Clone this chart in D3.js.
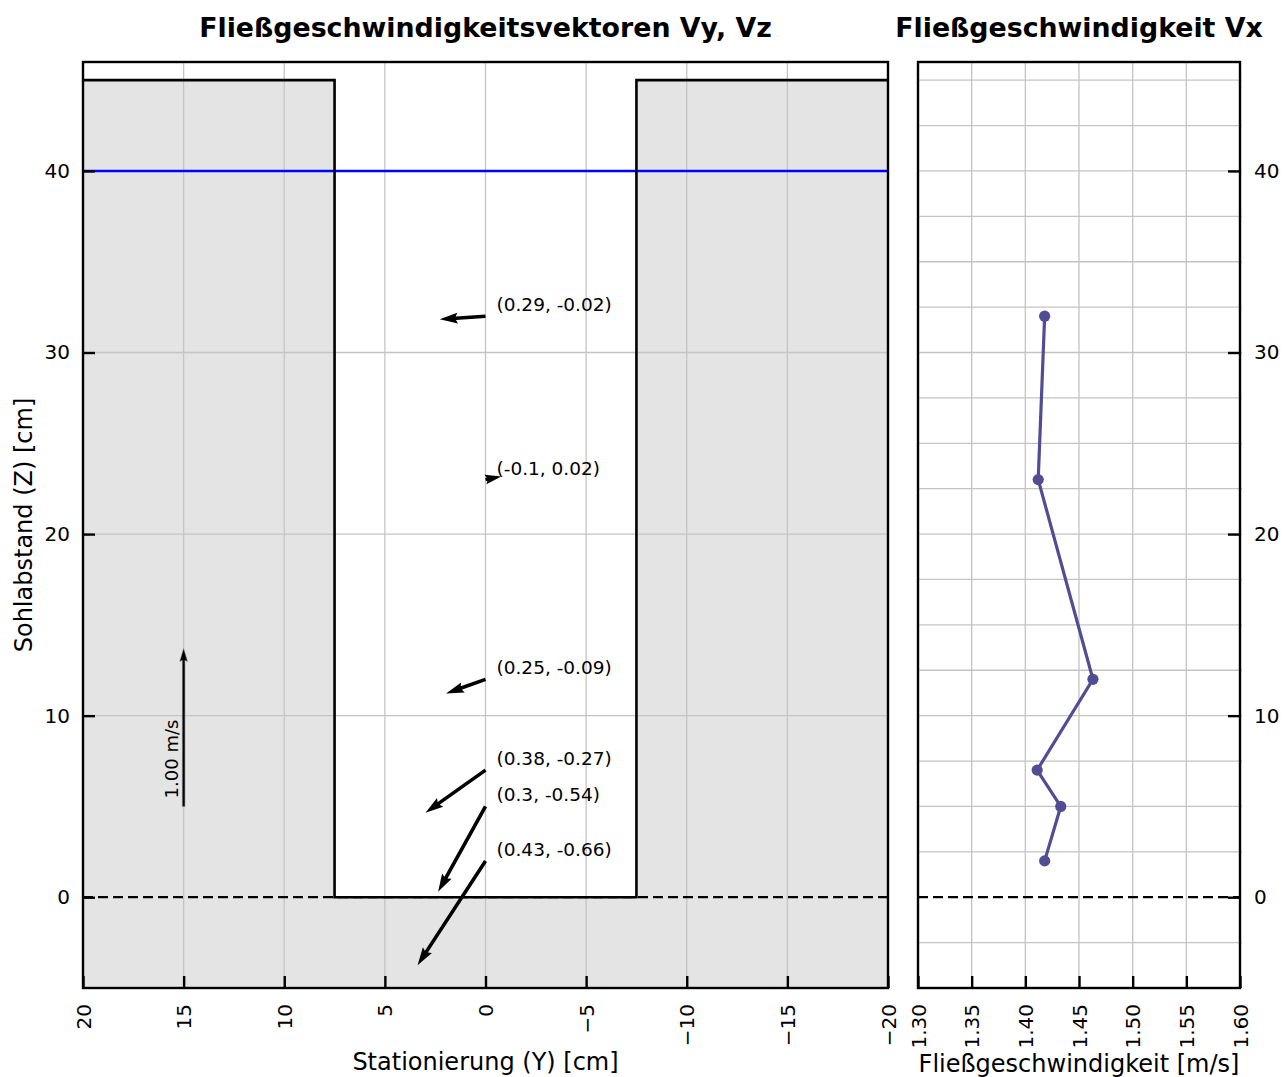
<!DOCTYPE html>
<html>
<head>
<meta charset="utf-8">
<script src="https://cdn.jsdelivr.net/npm/d3@7"></script>
<style>
  body { margin: 0; background: #fff; }
  svg text { font-family: "DejaVu Sans", sans-serif; fill: #000; }
</style>
</head>
<body>
<div id="wrapper"></div>
<script>
// measurement heights above the bed [cm]
const zLevels = [32, 23, 12, 7, 5, 2]
// cross-section velocity components [m/s]
const vyValues = [0.29, -0.1, 0.25, 0.38, 0.3, 0.43]
const vzValues = [-0.02, 0.02, -0.09, -0.27, -0.54, -0.66]
// main flow velocity [m/s]
const vxValues = [1.418, 1.412, 1.463, 1.411, 1.433, 1.418]

// channel geometry [cm]
const wallEdge = 7.5
const wallTop = 45
const waterLevel = 40

const yTicks = [20, 15, 10, 5, 0, -5, -10, -15, -20]
const zTicks = [0, 10, 20, 30, 40]
const vxTicks = [1.30, 1.35, 1.40, 1.45, 1.50, 1.55, 1.60]
const zMinorGrid = [-2.5, 2.5, 5, 7.5, 12.5, 15, 17.5, 22.5, 25, 27.5, 32.5, 35, 37.5, 42.5, 45]

let dimensions = {
  width: 1283,
  height: 1077,
  top: 62,
  bottom: 988,
  left: { x0: 83, x1: 888 },
  right: { x0: 918, x1: 1240 }
}

const wrapper = d3.select('#wrapper').append('svg')
  .attr('width', dimensions.width)
  .attr('height', dimensions.height)

// Scales
const zScale = d3.scaleLinear().domain([-5, 46]).range([dimensions.bottom, dimensions.top])
const yScale = d3.scaleLinear().domain([20, -20]).range([dimensions.left.x0, dimensions.left.x1])
const vxScale = d3.scaleLinear().domain([1.3, 1.6]).range([dimensions.right.x0, dimensions.right.x1])
// quiver length in pixels per m/s
const arrowScale = d3.scaleLinear().domain([0, 1]).range([0, 158])

const gridColor = '#c4c4c4'
const fillColor = '#e4e4e4'

// ---------- left panel: vectors ----------
const left = wrapper.append('g')
const lx0 = dimensions.left.x0, lx1 = dimensions.left.x1

// gray walls and bed as one polygon (no seams)
const solid = [[20, -5], [20, wallTop], [wallEdge, wallTop], [wallEdge, 0], [-wallEdge, 0], [-wallEdge, wallTop], [-20, wallTop], [-20, -5]]
const lineYZ = d3.line().x(d => yScale(d[0])).y(d => zScale(d[1]))
left.append('path')
  .attr('d', lineYZ(solid) + 'Z')
  .attr('fill', fillColor)

// grid
left.append('g').selectAll('line')
  .data(yTicks.slice(1, -1))
  .join('line')
  .attr('x1', d => yScale(d)).attr('x2', d => yScale(d))
  .attr('y1', dimensions.top).attr('y2', dimensions.bottom)
  .attr('stroke', gridColor).attr('stroke-width', 1.3)
left.append('g').selectAll('line')
  .data([10, 20, 30])
  .join('line')
  .attr('x1', lx0).attr('x2', lx1)
  .attr('y1', d => zScale(d)).attr('y2', d => zScale(d))
  .attr('stroke', gridColor).attr('stroke-width', 1.3)

// bed reference (dashed) and water level
left.append('line')
  .attr('x1', lx0).attr('x2', lx1)
  .attr('y1', zScale(0)).attr('y2', zScale(0))
  .attr('stroke', 'black').attr('stroke-width', 2.2)
  .attr('stroke-dasharray', '10 5')
left.append('line')
  .attr('x1', lx0).attr('x2', lx1)
  .attr('y1', zScale(waterLevel)).attr('y2', zScale(waterLevel))
  .attr('stroke', '#0000ff').attr('stroke-width', 2.4)

// channel outline
const outline = [[20, wallTop], [wallEdge, wallTop], [wallEdge, 0], [-wallEdge, 0], [-wallEdge, wallTop], [-20, wallTop]]
left.append('path')
  .attr('d', lineYZ(outline))
  .attr('fill', 'none').attr('stroke', 'black').attr('stroke-width', 2.6)

// arrow shape like a quiver arrow, pointing along +x, length len
function arrowPath(len, w) {
  const hl = 5 * w, hal = 4.5 * w, hw = 1.5 * w
  let pts
  if (len >= hl) {
    pts = [[0, -w / 2], [len - hal, -w / 2], [len - hl, -hw], [len, 0], [len - hl, hw], [len - hal, w / 2], [0, w / 2]]
  } else {
    const s = len / hl
    pts = [[0, -w / 2], [hl - hal, -w / 2], [0, -hw], [hl, 0], [0, hw], [hl - hal, w / 2], [0, w / 2]]
      .map(p => [p[0] * s, p[1] * s])
  }
  return 'M' + pts.map(p => p.join(',')).join('L') + 'Z'
}

const vectors = zLevels.map((z, i) => ({ z: z, vy: vyValues[i], vz: vzValues[i] }))

const arrowGroups = left.append('g').selectAll('g')
  .data(vectors)
  .join('g')
  .attr('transform', d => `translate(${yScale(0)},${zScale(d.z)})`)

arrowGroups.append('path')
  .attr('d', d => arrowPath(arrowScale(Math.hypot(d.vy, d.vz)), 3.6))
  .attr('transform', d => {
    // positive vy points toward the left (reversed axis), positive vz points up
    const dx = d.vy >= 0 ? -arrowScale(d.vy) : arrowScale(-d.vy)
    const ang = Math.atan2(-arrowScale(d.vz), dx) * 180 / Math.PI
    return `rotate(${ang})`
  })
  .attr('fill', 'black')

arrowGroups.append('text')
  .attr('x', 11)
  .attr('y', -11.5)
  .attr('dy', '0.35em')
  .style('font-size', '18.5px')
  .text(d => `(${d.vy}, ${d.vz})`)

// reference arrow 1.00 m/s
const keyArrow = left.append('g')
  .attr('transform', `translate(${yScale(15)},${zScale(5)})`)
keyArrow.append('path')
  .attr('d', arrowPath(arrowScale(1), 2.6))
  .attr('transform', 'rotate(-90)')
  .attr('fill', 'black')
  .attr('stroke', '#888').attr('stroke-width', 0.5)
keyArrow.append('text')
  .attr('transform', `translate(-12,${-arrowScale(1) * 0.3}) rotate(-90)`)
  .attr('dy', '0.35em')
  .style('text-anchor', 'middle')
  .style('font-size', '18px')
  .text('1.00 m/s')

// axes
const xAxisLeft = left.append('g')
  .attr('transform', `translate(0,${dimensions.bottom})`)
  .call(d3.axisBottom(yScale).tickValues(yTicks).tickSize(-12).tickFormat(d3.format('d')))
const yAxisLeft = left.append('g')
  .attr('transform', `translate(${lx0},0)`)
  .call(d3.axisLeft(zScale).tickValues(zTicks).tickSize(-12).tickPadding(13))

left.append('rect')
  .attr('x', lx0).attr('y', dimensions.top)
  .attr('width', lx1 - lx0).attr('height', dimensions.bottom - dimensions.top)
  .attr('fill', 'none').attr('stroke', 'black').attr('stroke-width', 2.4)

left.append('text')
  .attr('x', (lx0 + lx1) / 2).attr('y', 37)
  .style('text-anchor', 'middle').style('font-size', '26.8px').style('font-weight', 'bold')
  .text('Fließgeschwindigkeitsvektoren Vy, Vz')
left.append('text')
  .attr('x', (lx0 + lx1) / 2).attr('y', 1070)
  .style('text-anchor', 'middle').style('font-size', '24px')
  .text('Stationierung (Y) [cm]')
left.append('text')
  .attr('transform', `translate(32,${(dimensions.top + dimensions.bottom) / 2}) rotate(-90)`)
  .style('text-anchor', 'middle').style('font-size', '24px')
  .text('Sohlabstand (Z) [cm]')

// ---------- right panel: Vx profile ----------
const right = wrapper.append('g')
const rx0 = dimensions.right.x0, rx1 = dimensions.right.x1

right.append('g').selectAll('line')
  .data(vxTicks.slice(1, -1))
  .join('line')
  .attr('x1', d => vxScale(d)).attr('x2', d => vxScale(d))
  .attr('y1', dimensions.top).attr('y2', dimensions.bottom)
  .attr('stroke', gridColor).attr('stroke-width', 1.3)
right.append('g').selectAll('line')
  .data(zMinorGrid.concat([10, 20, 30, 40]))
  .join('line')
  .attr('x1', rx0).attr('x2', rx1 + 2)
  .attr('y1', d => zScale(d)).attr('y2', d => zScale(d))
  .attr('stroke', gridColor).attr('stroke-width', 1.3)

right.append('line')
  .attr('x1', rx0).attr('x2', rx1)
  .attr('y1', zScale(0)).attr('y2', zScale(0))
  .attr('stroke', 'black').attr('stroke-width', 2.2)
  .attr('stroke-dasharray', '10 5')

const profile = zLevels.map((z, i) => ({ z: z, vx: vxValues[i] }))
const lineColor = '#524c93'
right.append('path')
  .datum(profile)
  .attr('d', d3.line().x(d => vxScale(d.vx)).y(d => zScale(d.z)))
  .attr('fill', 'none').attr('stroke', lineColor).attr('stroke-width', 3.2)
right.append('g').selectAll('circle')
  .data(profile)
  .join('circle')
  .attr('cx', d => vxScale(d.vx)).attr('cy', d => zScale(d.z))
  .attr('r', 5.6).attr('fill', lineColor)

const xAxisRight = right.append('g')
  .attr('transform', `translate(0,${dimensions.bottom})`)
  .call(d3.axisBottom(vxScale).tickValues(vxTicks).tickSize(-12).tickFormat(d3.format('.2f')))
const yAxisRight = right.append('g')
  .attr('transform', `translate(${rx1},0)`)
  .call(d3.axisRight(zScale).tickValues(zTicks).tickSize(-12).tickPadding(14))

right.append('rect')
  .attr('x', rx0).attr('y', dimensions.top)
  .attr('width', rx1 - rx0).attr('height', dimensions.bottom - dimensions.top)
  .attr('fill', 'none').attr('stroke', 'black').attr('stroke-width', 2.4)

right.append('text')
  .attr('x', (rx0 + rx1) / 2).attr('y', 37)
  .style('text-anchor', 'middle').style('font-size', '26.8px').style('font-weight', 'bold')
  .text('Fließgeschwindigkeit Vx')
right.append('text')
  .attr('x', (rx0 + rx1) / 2).attr('y', 1072)
  .style('text-anchor', 'middle').style('font-size', '24px')
  .text('Fließgeschwindigkeit [m/s]')

// axis styling shared by all four axes
;[xAxisLeft, yAxisLeft, xAxisRight, yAxisRight].forEach(ax => {
  ax.select('.domain').remove()
  ax.selectAll('.tick line').attr('stroke', 'black').attr('stroke-width', 2.4)
  ax.selectAll('.tick text').style('font-size', '20px').attr('fill', 'black')
})
;[xAxisLeft, xAxisRight].forEach(ax => {
  ax.selectAll('.tick text')
    .attr('transform', 'rotate(-90)')
    .attr('x', -16)
    .attr('y', 0)
    .attr('dy', '0.35em')
    .style('text-anchor', 'end')
})
</script>
</body>
</html>
